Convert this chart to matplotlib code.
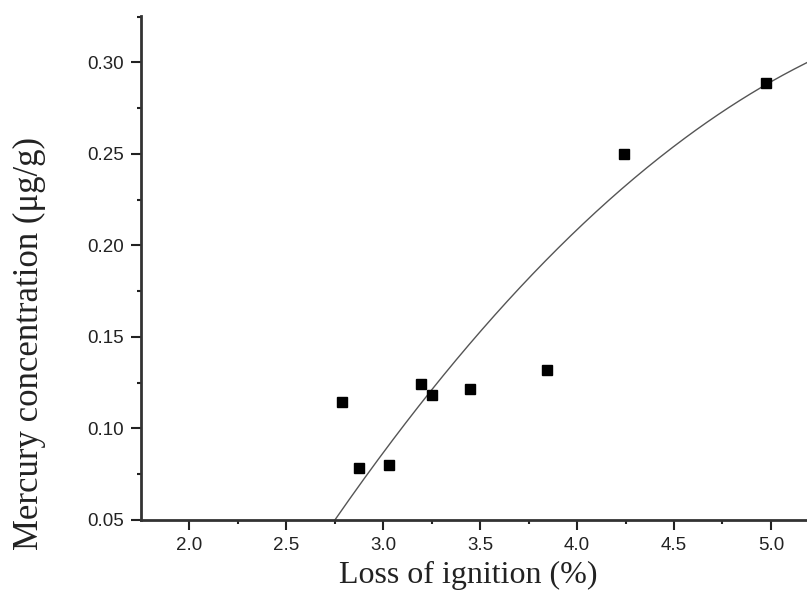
import numpy as np
import matplotlib
matplotlib.use("Agg")
import matplotlib.pyplot as plt

# loss of ignition (%) vs mercury concentration (ug/g)
loi = [2.788, 2.876, 3.028, 3.196, 3.250, 3.447, 3.846, 4.242, 4.975]
hg = [0.1143, 0.0783, 0.0801, 0.1243, 0.1181, 0.1218, 0.1320, 0.2500, 0.2890]

# quadratic trend line: hg = c2*loi^2 + c1*loi + c0
fit_coef = [-0.02054, 0.2656, -0.5251]

x_ticks = [2.0, 2.5, 3.0, 3.5, 4.0, 4.5, 5.0]
y_ticks = [0.05, 0.10, 0.15, 0.20, 0.25, 0.30]

xs = np.linspace(2.6, 5.4, 300)
ys = np.polyval(fit_coef, xs)

fig = plt.figure(figsize=(8.07, 5.90), dpi=100)
ax = fig.add_axes([141 / 807, 1 - 520 / 590, 1 - 141 / 807, (520 - 15.7) / 590])

ax.plot(xs, ys, color="#555555", lw=1.0, zorder=2)
ax.plot(loi, hg, ls="none", marker="s", ms=7, color="black", zorder=3)

ax.set_xlim(1.75, 5.186)
ax.set_ylim(0.05, 0.3255)
ax.set_xticks(x_ticks)
ax.set_yticks(y_ticks)
ax.set_xticks(np.arange(2.25, 5.2, 0.5), minor=True)
ax.set_yticks(np.arange(0.075, 0.33, 0.05), minor=True)
ax.set_xticklabels([f"{v:.1f}" for v in x_ticks])
ax.set_yticklabels([f"{v:.2f}" for v in y_ticks])

for s in ["top", "right"]:
    ax.spines[s].set_visible(False)
for s in ["left", "bottom"]:
    ax.spines[s].set_linewidth(2.0)
    ax.spines[s].set_color("#333333")

ax.tick_params(which="major", direction="out", length=7, width=1.5, color="#222222",
               labelsize=13.5, labelcolor="#222222", pad=5)
ax.tick_params(which="minor", direction="out", length=3, width=1.5, color="#222222")
for lab in ax.get_xticklabels() + ax.get_yticklabels():
    lab.set_family("Liberation Sans")

# axis titles
fig.text(468 / 807, 1 - 583 / 590, "Loss of ignition (%)", family="Liberation Serif",
         fontsize=23, color="#222222", ha="center", va="baseline")
fig.text(29 / 807, 1 - 344 / 590, "Mercury concentration (μg/g)", family="Liberation Serif",
         fontsize=25, color="#222222", rotation=90, ha="center", va="center")

fig.savefig("out.png", dpi=100)
